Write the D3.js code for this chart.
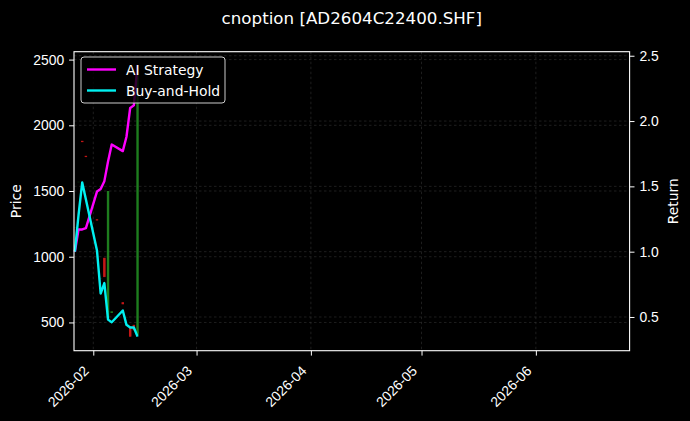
<!DOCTYPE html>
<html>
<head>
<meta charset="utf-8">
<script src="https://cdn.jsdelivr.net/npm/d3@7"></script>
<style>
  html, body { margin: 0; padding: 0; background: #000; }
  svg { display: block; font-family: "DejaVu Sans", sans-serif; }
</style>
</head>
<body>
<div id="chart"></div>
<script>
// trading days and the two return series (right axis)
const dates = ["2026-01-27", "2026-01-28", "2026-01-29", "2026-01-30", "2026-02-02", "2026-02-03", "2026-02-04",
  "2026-02-05", "2026-02-06", "2026-02-09", "2026-02-10", "2026-02-11", "2026-02-12", "2026-02-13"];
const aiStrategy = [1.00, 1.17, 1.17, 1.18, 1.46, 1.48, 1.54, 1.69, 1.82, 1.77, 1.88, 2.10, 2.12, 2.43];
const buyHold = [1.00, 1.28, 1.53, 1.40, 1.01, 0.68, 0.76, 0.48, 0.46, 0.55, 0.44, 0.42, 0.42, 0.35];

// option price candles (left axis)
const open = [1225, 1570, 1880, 1765, 1282, 835, 990, 580, 575, 652, 540, 467, 480, 420];
const high = [1225, 1570, 1882, 1768, 1285, 835, 992, 1500, 584, 654, 540, 470, 482, 2456];
const low = [1225, 1570, 1872, 1758, 1276, 835, 845, 535, 573, 638, 540, 391, 440, 405];
const close = [1225, 1570, 1874, 1760, 1278, 835, 848, 590, 582, 640, 540, 398, 444, 430];

const priceTicks = [500, 1000, 1500, 2000, 2500];
const returnTicks = [0.5, 1.0, 1.5, 2.0, 2.5];
const monthTicks = ["2026-02-01", "2026-03-01", "2026-04-01", "2026-05-01", "2026-06-01"];
const xLimits = ["2026-01-26T18:30:00Z", "2026-06-26T10:00:00Z"];
const priceLimits = [285, 2560];
const returnLimits = [0.242, 2.531];

const W = 690, H = 421;
const m = { l: 74, r: 60.4, t: 51.7, b: 70.3 };
const parse = d3.utcParse("%Y-%m-%d");
const days = dates.map(parse);

const svg = d3.select("#chart").append("svg").attr("width", W).attr("height", H);
svg.append("rect").attr("width", W).attr("height", H).attr("fill", "#000");

const x = d3.scaleUtc().domain(xLimits.map(d => new Date(d))).range([m.l, W - m.r]);
const yP = d3.scaleLinear().domain(priceLimits).range([H - m.b, m.t]);
const yR = d3.scaleLinear().domain(returnLimits).range([H - m.b, m.t]);

// grid (both y axes + months), faint dashed
const grid = svg.append("g").attr("stroke", "#3c3c3c").attr("stroke-width", 0.5).attr("stroke-dasharray", "2.5,2.5");
monthTicks.forEach(t => grid.append("line").attr("x1", x(parse(t))).attr("x2", x(parse(t))).attr("y1", m.t).attr("y2", H - m.b));
priceTicks.forEach(t => grid.append("line").attr("x1", m.l).attr("x2", W - m.r).attr("y1", yP(t)).attr("y2", yP(t)));
returnTicks.forEach(t => grid.append("line").attr("x1", m.l).attr("x2", W - m.r).attr("y1", yR(t)).attr("y2", yR(t)));

// candles
const cw = 0.6 * (x(parse("2026-01-28")) - x(parse("2026-01-27")));
const candles = svg.append("g");
days.forEach((d, i) => {
  const up = close[i] >= open[i];
  const col = up ? "#228b22" : "#d01818";
  const cx = x(d);
  candles.append("line").attr("x1", cx).attr("x2", cx).attr("y1", yP(high[i])).attr("y2", yP(low[i]))
    .attr("stroke", col).attr("stroke-width", 2.4).attr("opacity", 0.9);
  const top = yP(Math.max(open[i], close[i])), bot = yP(Math.min(open[i], close[i]));
  candles.append("rect").attr("x", cx - cw / 2).attr("width", cw).attr("y", top).attr("height", Math.max(bot - top, 0.4))
    .attr("fill", col).attr("opacity", 0.5);
});

// return lines
const line = d3.line().x((_, i) => x(days[i]));
svg.append("path").attr("d", line.y(v => yR(v))(aiStrategy))
  .attr("fill", "none").attr("stroke", "#ff00ff").attr("stroke-width", 2.4).attr("stroke-linejoin", "round");
svg.append("path").attr("d", line.y(v => yR(v))(buyHold))
  .attr("fill", "none").attr("stroke", "#00f0f0").attr("stroke-width", 2.4).attr("stroke-linejoin", "round");

// axes
const fs = "13.9px";
const xAxis = svg.append("g").attr("transform", `translate(0,${H - m.b})`)
  .call(d3.axisBottom(x).tickValues(monthTicks.map(parse)).tickFormat(d3.utcFormat("%Y-%m")).tickSizeOuter(0).tickSize(4.9).tickPadding(3));
xAxis.selectAll("text").attr("font-size", fs).attr("fill", "#fff").attr("text-anchor", "end")
  .attr("dy", null).attr("y", 0).attr("transform", "translate(-4,21) rotate(-45)");

const yAxisL = svg.append("g").attr("transform", `translate(${m.l},0)`)
  .call(d3.axisLeft(yP).tickValues(priceTicks).tickFormat(d3.format("d")).tickSizeOuter(0).tickSize(4.9).tickPadding(4.9));
yAxisL.selectAll("text").attr("font-size", fs).attr("fill", "#fff");

const yAxisR = svg.append("g").attr("transform", `translate(${W - m.r},0)`)
  .call(d3.axisRight(yR).tickValues(returnTicks).tickFormat(d3.format(".1f")).tickSizeOuter(0).tickSize(4.9).tickPadding(4.9));
yAxisR.selectAll("text").attr("font-size", fs).attr("fill", "#fff");

[xAxis, yAxisL, yAxisR].forEach(g => { g.select(".domain").remove(); g.selectAll("line").attr("stroke", "#fff").attr("stroke-width", 1); });

svg.append("rect").attr("x", m.l).attr("y", m.t).attr("width", W - m.l - m.r).attr("height", H - m.t - m.b)
  .attr("fill", "none").attr("stroke", "#fff").attr("stroke-width", 1.1);

// labels
svg.append("text").attr("x", (m.l + W - m.r) / 2).attr("y", 24).attr("text-anchor", "middle")
  .attr("font-size", "16.7px").attr("fill", "#fff").text("cnoption [AD2604C22400.SHF]");
svg.append("text").attr("transform", `translate(21,${(m.t + H - m.b) / 2}) rotate(-90)`).attr("text-anchor", "middle")
  .attr("font-size", fs).attr("fill", "#fff").text("Price");
svg.append("text").attr("transform", `translate(678,${(m.t + H - m.b) / 2}) rotate(-90)`).attr("text-anchor", "middle")
  .attr("font-size", fs).attr("fill", "#fff").text("Return");

// legend
const lg = svg.append("g").attr("transform", "translate(81,57)");
lg.append("rect").attr("width", 144).attr("height", 46).attr("rx", 3)
  .attr("fill", "#000").attr("fill-opacity", 0.8).attr("stroke", "#cccccc").attr("stroke-width", 1);
[["AI Strategy", "#ff00ff"], ["Buy-and-Hold", "#00f0f0"]].forEach(([name, col], i) => {
  const yy = 12.5 + i * 21;
  lg.append("line").attr("x1", 6).attr("x2", 35).attr("y1", yy).attr("y2", yy).attr("stroke", col).attr("stroke-width", 2.4);
  lg.append("text").attr("x", 45).attr("y", yy + 5).attr("font-size", fs).attr("fill", "#fff").text(name);
});
</script>
</body>
</html>
